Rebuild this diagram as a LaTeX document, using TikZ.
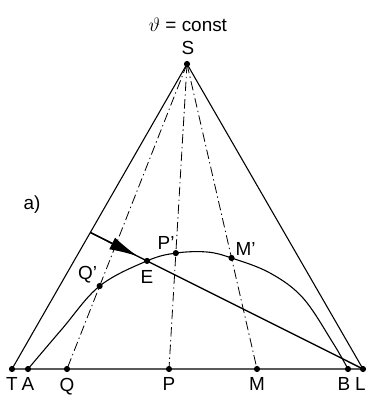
\documentclass[tikz,border=0pt]{standalone}
\usepackage{fontspec}
\setmainfont{Liberation Sans}
\usetikzlibrary{arrows.meta, positioning, calc}

\begin{document}
\begin{tikzpicture}[
        x=0.026cm, y=-0.026cm,
        pt/.style={circle, fill=black, inner sep=0pt, minimum size=1.6mm},
        lbl/.style={font=\fontsize{14}{16}\selectfont, inner sep=1pt},
        side/.style={line width=0.8pt},
        ray/.style={line width=0.6pt, dash pattern=on 7pt off 2.5pt on 1pt off 2.5pt},
        tie/.style={line width=1pt},
    ]
        \useasboundingbox (0,0) rectangle (388,400);

        % Ecken und Grundlinie
        \node[pt] (S) at (187,64) {};
        \node[pt] (T) at (12,369) {};
        \node[pt] (L) at (363,369) {};
        \node[pt] (A) at (28,369) {};
        \node[pt] (B) at (348,369) {};
        \node[pt] (Q) at (67,369) {};
        \node[pt] (P) at (169,369) {};
        \node[pt] (M) at (257,369) {};

        \draw[side] (T.center) -- (S.center) -- (L.center) -- cycle;

        % Konode
        \coordinate (K) at ($(T.center)!0.4475!(S.center)$);
        \node[pt] (E) at ($(K)!0.208!(L.center)$) {};
        \draw[tie] (K) -- (L.center);
        \draw[tie, -{Latex[length=7.5mm, width=3.4mm]}] (K) -- ($(K)!0.84!(E.center)$);

        % Strahlen von S
        \node[pt] (Qs) at ($(S.center)!0.728!(Q.center)$) {};
        \node[pt] (Ps) at ($(S.center)!0.620!(P.center)$) {};
        \node[pt] (Ms) at ($(S.center)!0.636!(M.center)$) {};
        \draw[ray] (S.center) -- (Q.center);
        \draw[ray] (S.center) -- (P.center);
        \draw[ray] (S.center) -- (M.center);

        % Binodale
        \draw[side] plot[smooth, tension=0.6] coordinates {(A.center) (62,329) (Qs.center)
            (E.center) (Ps.center) (207,252) (Ms.center) (270,273) (303,298)
            (333,343) (B.center)};

        % Beschriftung
        \node[lbl] (labS) at (188,48) {S};
        \node[lbl, above=1.6mm of labS] (title) {$\vartheta$ = const};
        \node[lbl] (part) at (32,205) {a)};
        \node[lbl, below=1mm of T] {T};
        \node[lbl, below=1mm of A] {A};
        \node[lbl, below=1mm of Q] {Q};
        \node[lbl, below=1mm of P] {P};
        \node[lbl, below=1mm of M] {M};
        \node[lbl, below=1mm of B, xshift=-3] {B};
        \node[lbl, below=1mm of L, xshift=-2] {L};
        \node[lbl, above left=-1pt and -1pt of Qs] {Q'};
        \node[lbl, below=1.2mm of E] {E};
        \node[lbl, above left=0pt and -2pt of Ps] {P'};
        \node[lbl, above right=-1pt and 0pt of Ms] {M'};
    \end{tikzpicture}
\end{document}
